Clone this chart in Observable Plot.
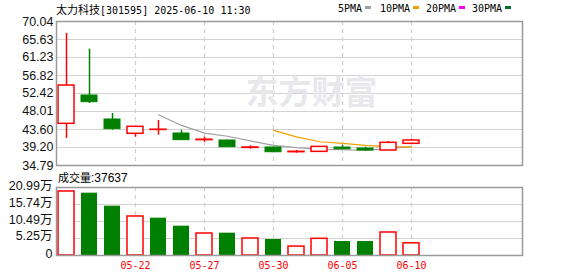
<!DOCTYPE html>
<html><head><meta charset="utf-8">
<script src="https://cdn.jsdelivr.net/npm/d3@7"></script>
<script src="https://cdn.jsdelivr.net/npm/@observablehq/plot@0.6"></script>
<style>
html,body{margin:0;padding:0;background:#fff;}
#wrap{position:relative;width:578px;height:276px;overflow:hidden;background:#fff}
#price{position:absolute;left:0;top:0}
#vol{position:absolute;left:0;top:170px}
.abs{position:absolute;white-space:nowrap;color:#000}
.mono{font-family:"DejaVu Sans Mono",monospace;font-size:10px}
.cjk{font-family:"Noto Sans CJK SC",sans-serif}
.sw{position:absolute;width:6px;height:3px;top:6px}
</style></head><body>
<div id="wrap">
  <div id="price"></div>
  <div id="vol"></div>
  <div class="abs" style="left:56px;top:1px;height:15px;line-height:15px"><span class="cjk" style="font-size:11px">太力科技</span><span class="mono">[301595] 2025-06-10 11:30</span></div>
  <div id="legend"></div>
  <div class="abs" style="left:58px;top:169px;height:16px;line-height:16px"><span class="cjk" style="font-size:11px">成交量</span><span style="font-family:'Liberation Sans',sans-serif;font-size:12px">:37637</span></div>
</div>
<script>
// ---- data ----
const dates = ["05-19","05-20","05-21","05-22","05-23","05-26","05-27","05-28","05-29","05-30","06-03","06-04","06-05","06-06","06-09","06-10"];
const openP  = [44.99, 51.93, 46.05, 42.55, 43.50, 42.62, 41.00, 40.91, 39.10, 39.20, 38.05, 38.13, 39.19, 38.95, 38.46, 40.10];
const closeP = [54.37, 50.29, 43.68, 44.26, 43.55, 40.99, 41.10, 39.27, 39.20, 38.04, 38.15, 39.35, 38.75, 38.46, 40.34, 40.91];
const highP  = [67.10, 63.26, 47.52, 44.26, 45.80, 43.36, 41.72, 40.95, 39.61, 39.25, 38.46, 39.45, 39.73, 39.27, 40.66, 41.24];
const lowP   = [41.40, 49.97, 43.43, 41.72, 42.21, 40.95, 40.49, 39.20, 38.78, 38.00, 37.80, 38.10, 38.70, 38.29, 38.40, 40.05];
const ma5    = [null, null, null, null, 47.20, 44.60, 42.70, 41.95, 40.80, 39.70, 39.15, 38.75, 38.65, 38.50, 38.90, 39.40];
const ma10   = [null, null, null, null, null, null, null, null, null, 43.40, 41.80, 40.60, 40.20, 39.70, 39.40, 39.35];
const volume = [19.76, 19.24, 15.22, 12.04, 11.52, 9.05, 6.79, 6.89, 5.25, 4.94, 2.75, 5.15, 4.32, 4.32, 7.10, 3.76]; // 万
const volRed = [true, false, false, true, false, false, true, false, true, false, true, true, false, false, true, true];
const priceTicks = [34.79, 39.20, 43.60, 48.01, 52.42, 56.82, 61.23, 65.63, 70.04];
const volTicks = [0, 5.25, 10.49, 15.74, 20.99];
const labelIdx = [3, 6, 9, 12, 15];
const legendNames = ["5PMA", "10PMA", "20PMA", "30PMA"];
const legendColors = ["#a0a0a0", "#f0a000", "#ff00ff", "#006f2f"];

// ---- build ----
const rows = dates.map((d, i) => ({i, date: d, open: openP[i], close: closeP[i], high: highP[i], low: lowP[i], vol: volume[i], vred: volRed[i], ma5: ma5[i], ma10: ma10[i], up: closeP[i] >= openP[i]}));
const up = rows.filter(d => d.up), down = rows.filter(d => !d.up);
const vUp = rows.filter(d => d.vred), vDown = rows.filter(d => !d.vred);
const hw = 8 / 23;
const xDomain = [-0.435, 19.826];
const RED = "#ff0000", GREEN = "#008000";
const gridC = "#d2d2d2", frameC = "#9a9a9a";

const price = Plot.plot({
  width: 578, height: 170,
  marginLeft: 56, marginRight: 56, marginTop: 21, marginBottom: 5,
  x: {type: "linear", domain: xDomain, axis: null},
  y: {domain: [34.79, 70.04], axis: null},
  style: {fontFamily: "'Liberation Sans', 'Noto Sans CJK SC', sans-serif", fontSize: "12.5px", color: "#111", background: "transparent", overflow: "visible"},
  marks: [
    Plot.ruleY(priceTicks, {stroke: gridC, strokeWidth: 1.2}),
    Plot.ruleX(labelIdx, {stroke: "#cfcfcf", strokeWidth: 1.2, strokeDasharray: "4,4"}),
    Plot.text(["东方财富"], {frameAnchor: "middle", dx: 22, fontSize: 33, fontWeight: "bold", fill: "#e8e8ec", fontFamily: "Noto Sans CJK SC"}),
    Plot.line(rows.filter(d => d.ma5 != null), {x: "i", y: "ma5", stroke: "#a0a0a0", strokeWidth: 1.2}),
    Plot.line(rows.filter(d => d.ma10 != null), {x: "i", y: "ma10", stroke: "#f0a000", strokeWidth: 1.2}),
    Plot.ruleX(up, {x: "i", y1: "low", y2: "high", stroke: RED, strokeWidth: 1.5}),
    Plot.ruleX(down, {x: "i", y1: "low", y2: "high", stroke: GREEN, strokeWidth: 1.5}),
    Plot.rect(up, {x1: d => d.i - hw, x2: d => d.i + hw, y1: "open", y2: "close", fill: "white", stroke: RED, strokeWidth: 1.5}),
    Plot.rect(down, {x1: d => d.i - hw, x2: d => d.i + hw, y1: "open", y2: "close", fill: GREEN, stroke: GREEN, strokeWidth: 1}),
    Plot.frame({stroke: frameC, strokeWidth: 1.5}),
    Plot.axisY(priceTicks, {tickSize: 0, tickPadding: 3, tickFormat: d => d.toFixed(2), label: null})
  ]
});
document.getElementById("price").appendChild(price);

const vol = Plot.plot({
  width: 578, height: 106,
  marginLeft: 56, marginRight: 56, marginTop: 17, marginBottom: 21,
  x: {type: "linear", domain: xDomain},
  y: {domain: [0, 20.99]},
  style: {fontFamily: "'Liberation Sans', 'Noto Sans CJK SC', sans-serif", fontSize: "12.5px", color: "#111", background: "transparent", overflow: "visible"},
  marks: [
    Plot.ruleY(volTicks, {stroke: gridC, strokeWidth: 1.2}),
    Plot.ruleX(labelIdx, {stroke: "#cfcfcf", strokeWidth: 1.2, strokeDasharray: "4,4"}),
    Plot.rect(vUp, {x1: d => d.i - hw, x2: d => d.i + hw, y1: 0, y2: "vol", fill: "white", stroke: RED, strokeWidth: 1.5}),
    Plot.rect(vDown, {x1: d => d.i - hw, x2: d => d.i + hw, y1: 0, y2: "vol", fill: GREEN}),
    Plot.frame({stroke: frameC, strokeWidth: 1.5}),
    Plot.axisY(volTicks, {tickSize: 0, tickPadding: 4, dy: -2, tickFormat: d => d === 0 ? "0" : d.toFixed(2) + "万", label: null}),
    Plot.axisX(labelIdx, {tickSize: 0, tickPadding: 6, tickFormat: i => dates[i], fill: RED, fontFamily: "DejaVu Sans Mono", fontSize: 10, label: null})
  ]
});
document.getElementById("vol").appendChild(vol);

// legend
const lg = document.getElementById("legend");
const lgLeft = [338, 380, 426, 472];
legendNames.forEach((n, k) => {
  const t = document.createElement("div");
  t.className = "abs mono";
  t.style.cssText = `left:${lgLeft[k]}px;top:1px;height:15px;line-height:15px`;
  t.textContent = n;
  lg.appendChild(t);
  const s = document.createElement("div");
  s.className = "sw";
  s.style.left = (lgLeft[k] + n.length * 6 + 3) + "px";
  s.style.background = legendColors[k];
  lg.appendChild(s);
});
</script>
</body></html>
